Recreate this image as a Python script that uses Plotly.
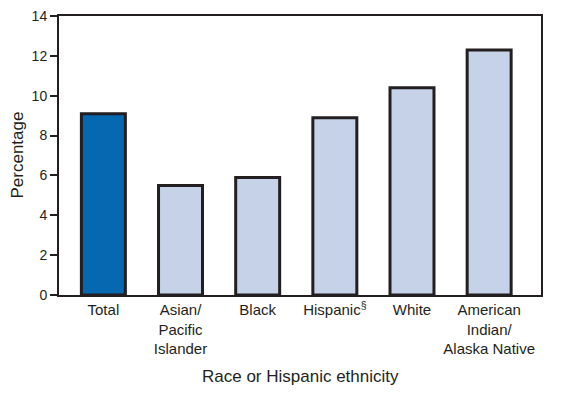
import plotly.graph_objects as go

categories = ["Total", "Asian/<br>Pacific<br>Islander", "Black", "Hispanic<sup>§</sup>", "White",
              "American<br>Indian/<br>Alaska Native"]
values = [9.1, 5.5, 5.9, 8.9, 10.4, 12.3]
colors = ["#0568B0", "#C5D2E8", "#C5D2E8", "#C5D2E8", "#C5D2E8", "#C5D2E8"]
y_ticks = [0, 2, 4, 6, 8, 10, 12, 14]
x_title = "Race or Hispanic ethnicity"
y_title = "Percentage"

fig = go.Figure(go.Bar(
    x=list(range(len(categories))), y=values,
    marker=dict(color=colors, line=dict(color="#231F20", width=3)),
    width=0.57,
))

font = dict(family="Liberation Sans, Arial, sans-serif", color="#231F20")
fig.update_layout(
    width=564, height=395,
    margin=dict(l=51, r=31, t=8, b=108, autoexpand=False),
    plot_bgcolor="white", paper_bgcolor="white",
    font=dict(**font, size=14),
    showlegend=False,
    annotations=[
        dict(text=x_title, xref="paper", yref="paper", x=0.5, y=-82 / 279,
             xanchor="center", yanchor="middle", showarrow=False, font=dict(size=17)),
        dict(text=y_title, xref="paper", yref="paper", x=-42 / 482, y=0.5,
             xanchor="center", yanchor="middle", showarrow=False, textangle=-90,
             font=dict(size=17)),
    ],
)
fig.update_xaxes(
    tickmode="array", tickvals=list(range(len(categories))), ticktext=categories,
    range=[-0.575, 5.672], showgrid=False, ticks="", zeroline=False, automargin=False,
    showline=True, linecolor="#231F20", linewidth=2, mirror=True,
    tickfont=dict(size=15), ticklabeloverflow="allow",
)
fig.update_yaxes(
    range=[0, 14], tickvals=y_ticks, showgrid=False, zeroline=False, automargin=False,
    ticks="outside", ticklen=7, tickwidth=2, tickcolor="#231F20",
    showline=True, linecolor="#231F20", linewidth=2, mirror=True,
    tickfont=dict(size=14), ticklabeloverflow="allow",
)
fig.write_html("out.html")
